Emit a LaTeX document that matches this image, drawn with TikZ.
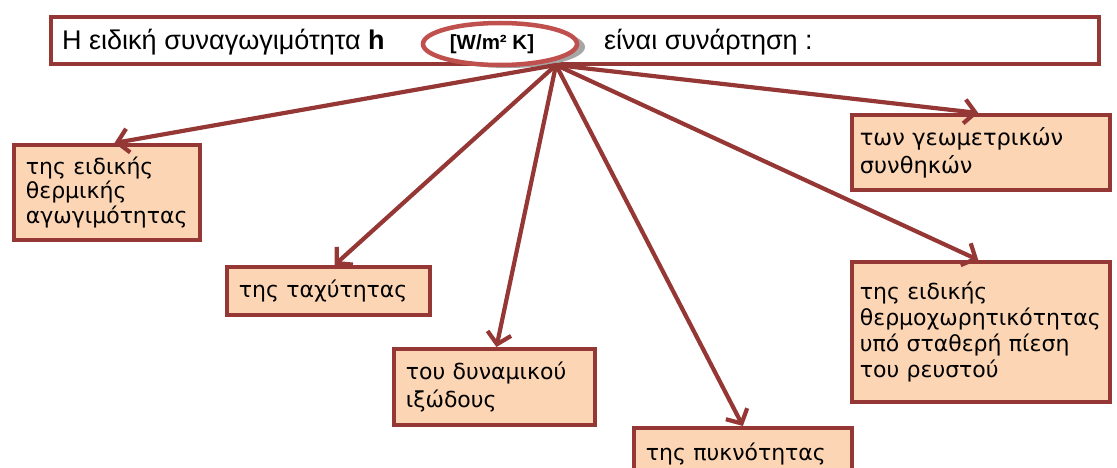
\documentclass[tikz,border=0pt]{standalone}
\usepackage{fontspec}
\setmainfont{Liberation Sans}
\newfontfamily\boxfont{DejaVu Sans}
\usetikzlibrary{arrows.meta,calc,shapes.geometric}
\definecolor{darkred}{HTML}{953735}
\definecolor{ellred}{HTML}{C0504D}
\definecolor{peach}{HTML}{FCD5B5}
\tikzset{
  leaf/.style={draw=darkred, line width=3.8pt, fill=peach, anchor=north west,
    inner xsep=12pt, inner ysep=4pt, align=left,
    font=\boxfont\fontsize{22}{26}\selectfont},
  conn/.style={draw=darkred, line width=4.2pt,
    -{Straight Barb[length=11pt,width=24pt,line width=4.2pt]}},
}
\begin{document}
\begin{tikzpicture}[x=1pt,y=-1pt]
\useasboundingbox (0,0) rectangle (1117,468);
\begin{scope}
\clip (0,0) rectangle (1117,468);
% title box
\node[draw=darkred, line width=3.8pt, fill=white, minimum width=1048pt, minimum height=47pt,
      anchor=north west, inner sep=0pt] (title) at (49,15) {};
\node[anchor=base west, font=\fontsize{27}{30}\selectfont, inner sep=0pt] (t1) at (62,50)
  {Η ειδική συναγωγιμότητα \textbf{h}};
\node[anchor=base west, font=\fontsize{27}{30}\selectfont, inner sep=0pt] (t2) at (604,50)
  {είναι συνάρτηση :};
% ellipse with shadow
\fill[gray!70] (508,47) ellipse [x radius=77, y radius=21];
\node[draw=ellred, line width=4.5pt, fill=white, ellipse, minimum width=154pt, minimum height=42pt,
      inner sep=0pt] (unit) at (500,44) {};
\node[font=\bfseries\fontsize{20.5}{24}\selectfont, inner sep=0pt, anchor=base] (ut) at (492,50) {[W/m² K]};
\coordinate (S) at (556,65);
% leaf boxes
\node[leaf, font=\boxfont\fontsize{22}{24.5}\selectfont, minimum width=186pt, minimum height=95pt,
      text width=162pt] (b1) at (12,143)
  {της ειδικής\\θερμικής\\αγωγιμότητας};
\node[leaf, minimum width=203pt, minimum height=48pt, text width=179pt] (b2) at (225,265)
  {της ταχύτητας};
\node[leaf, font=\boxfont\fontsize{22}{28}\selectfont, minimum width=201pt, minimum height=76pt,
      text width=177pt] (b3) at (392,347)
  {του δυναμικού\\ιξώδους};
\node[leaf, minimum width=218pt, minimum height=52pt, text width=194pt] (b4) at (632,426)
  {της πυκνότητας};
\node[leaf, font=\boxfont\fontsize{22.5}{28}\selectfont, inner xsep=8pt, minimum width=258pt,
      minimum height=75pt, text width=242pt] (b5) at (850,113)
  {των γεωμετρικών\\συνθηκών};
\node[leaf, font=\boxfont\fontsize{22}{26}\selectfont, inner xsep=8pt, minimum width=258pt,
      minimum height=140pt, text width=242pt] (b6) at (850,260)
  {της ειδικής\\θερμοχωρητικότητας\\υπό σταθερή πίεση\\του ρευστού};
% connectors
\draw[conn] (S) -- ($(b1.north west)!0.54!(b1.north east)$);
\draw[conn] (S) -- ($(b2.north west)!0.53!(b2.north east)$);
\draw[conn] (S) -- ($(b3.north west)!0.51!(b3.north east)$);
\draw[conn] (S) -- ($(b4.north west)!0.50!(b4.north east)$);
\draw[conn] (S) -- ($(b5.north west)!0.49!(b5.north east)$);
\draw[conn] (S) -- ($(b6.north west)!0.49!(b6.north east)$);
\end{scope}
\end{tikzpicture}
\end{document}
